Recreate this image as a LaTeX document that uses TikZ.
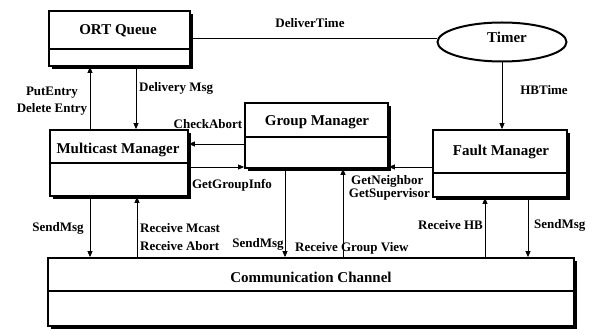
\documentclass[tikz,border=0pt]{standalone}
\usepackage{fontspec}
\setmainfont{Liberation Serif}
\usetikzlibrary{arrows.meta,shadows,shapes.geometric}
\begin{document}
\begin{tikzpicture}[x=1pt,y=-1pt,
 box/.style={draw,line width=1.8pt,fill=white,inner sep=0pt,drop shadow={shadow xshift=2.5pt,shadow yshift=-3pt,fill=black,opacity=1}},
 title/.style={font=\bfseries\fontsize{15}{17}\selectfont,inner sep=0pt},
 lbl/.style={font=\bfseries\fontsize{13}{17}\selectfont,inner sep=0pt},
 conn/.style={line width=0.7pt},
 arr/.style={conn,-{Triangle[length=6pt,width=5pt]}},
 divline/.style={line width=1.2pt}]
\useasboundingbox (0,0) rectangle (592,331);
% boxes
\node[box,minimum width=141pt,minimum height=55pt] (ort) at (119.5,38.5) {};
\node[box,minimum width=138pt,minimum height=66pt] (mcm) at (119,163) {};
\node[box,minimum width=143pt,minimum height=65pt] (grp) at (316.5,135.5) {};
\node[box,minimum width=134pt,minimum height=67pt] (flt) at (500,163.5) {};
\node[box,minimum width=526pt,minimum height=68pt] (com) at (311,292) {};
\node[draw,ellipse,line width=2pt,fill=white,minimum width=129pt,minimum height=39pt,inner sep=0pt] (tmr) at (502,42) {};
% dividers
\coordinate (d1) at (0,49);
\coordinate (d2) at (0,163);
\coordinate (d3) at (0,137);
\coordinate (d4) at (0,173);
\coordinate (d5) at (0,291);
\draw[divline] (ort.west |- d1) -- (ort.east |- d1);
\draw[divline] (mcm.west |- d2) -- (mcm.east |- d2);
\draw[divline] (grp.west |- d3) -- (grp.east |- d3);
\draw[divline] (flt.west |- d4) -- (flt.east |- d4);
\draw[divline] (com.west |- d5) -- (com.east |- d5);
% titles
\node[title] (tort) at (118,31) {ORT Queue};
\node[title] (tmcm) at (118,150) {Multicast Manager};
\node[title] (tgrp) at (317,122) {Group Manager};
\node[title] (tflt) at (501,152) {Fault Manager};
\node[title] (tcom) at (311,277) {Communication Channel};
\node[title] (ttmr) at (507,37) {Timer};
% helper coordinates
\coordinate (c90) at (90,0);
\coordinate (c136) at (136,0);
\coordinate (c137) at (137,0);
\coordinate (c285) at (285,0);
\coordinate (c343) at (343,0);
\coordinate (c485) at (485,0);
\coordinate (c528) at (528,0);
\coordinate (r144) at (0,144);
\coordinate (r167) at (0,167);
% connectors
\draw[conn] (ort.east) -- (ort.east -| tmr.west);
\draw[arr] (tmr.south) -- (flt.north -| tmr.south);
\draw[arr] (mcm.north -| c90) -- (ort.south -| c90);
\draw[arr] (ort.south -| c136) -- (mcm.north -| c136);
\draw[arr] (grp.west |- r144) -- (mcm.east |- r144);
\draw[arr] (mcm.east |- r167) -- (grp.west |- r167);
\draw[arr] (flt.west |- r167) -- (grp.east |- r167);
\draw[arr] (mcm.south -| c90) -- (com.north -| c90);
\draw[arr] (com.north -| c137) -- (mcm.south -| c137);
\draw[arr] (grp.south -| c285) -- (com.north -| c285);
\draw[arr] (com.north -| c343) -- (grp.south -| c343);
\draw[arr] (com.north -| c485) -- (flt.south -| c485);
\draw[arr] (flt.south -| c528) -- (com.north -| c528);
% labels
\node[lbl] (ldt) at (310,23) {DeliverTime};
\node[lbl] (lhb) at (544,90) {HBTime};
\node[lbl,align=center] (lpe) at (52,101.5) {PutEntry\\Delete Entry};
\node[lbl,anchor=west] (ldm) at (139,88) {Delivery Msg};
\node[lbl] (lca) at (208,124) {CheckAbort};
\node[lbl] (lgi) at (232,185) {GetGroupInfo};
\node[lbl,anchor=west] (lgn) at (351,181) {GetNeighbor};
\node[lbl,anchor=east] (lgs) at (430,194) {GetSupervisor};
\node[lbl] (ls1) at (58,228) {SendMsg};
\node[lbl,align=left,anchor=west] (lrm) at (140,237) {Receive Mcast\\[1pt]Receive Abort};
\node[lbl] (ls2) at (258,244) {SendMsg};
\node[lbl,anchor=west] (lrg) at (295,248) {Receive Group View};
\node[lbl,anchor=east] (lrh) at (483,225) {Receive HB};
\node[lbl,anchor=west] (ls3) at (534,225) {SendMsg};
\end{tikzpicture}
\end{document}
